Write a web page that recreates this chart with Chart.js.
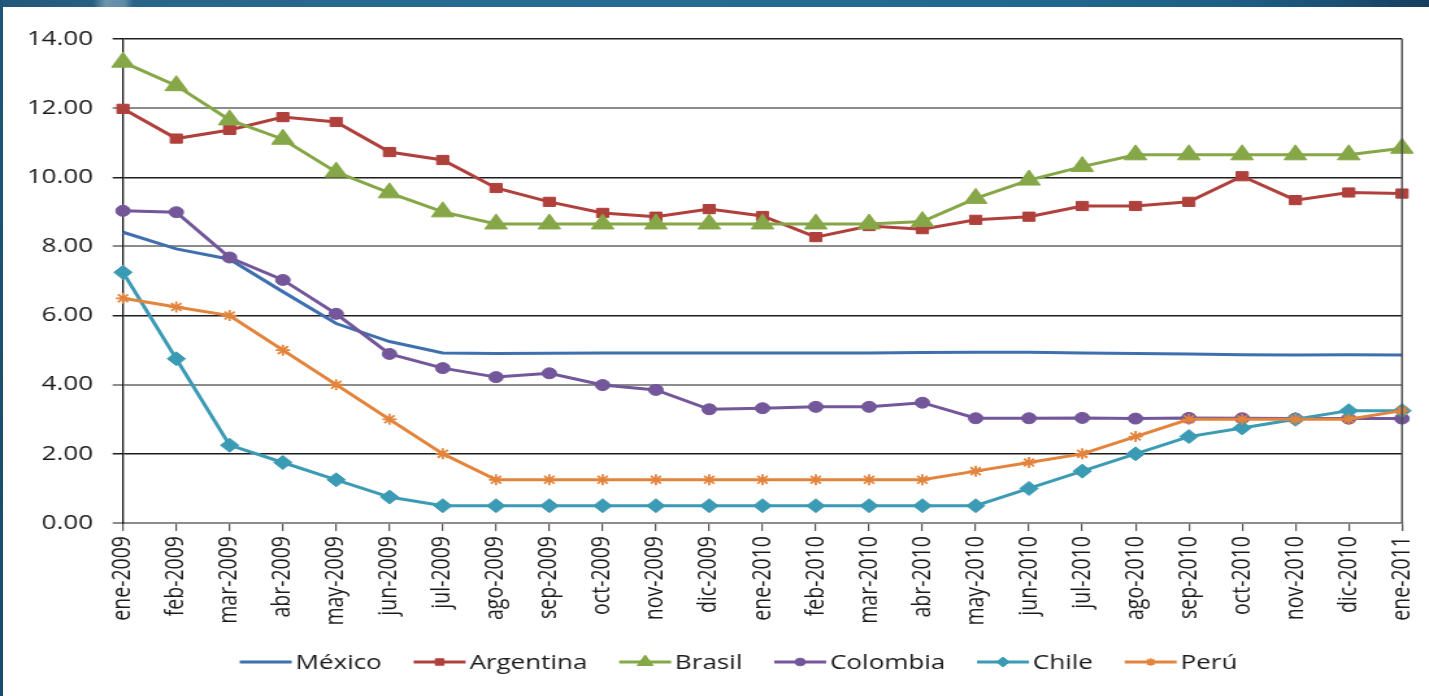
<!DOCTYPE html>
<html>
<head>
<meta charset="utf-8">
<script src="https://cdn.jsdelivr.net/npm/chart.js@4.4.1/dist/chart.umd.min.js"></script>
<style>
  html, body { margin: 0; padding: 0; background: #fff; overflow: hidden; }
  #wrap { position: relative; width: 1429px; height: 696px; background: #fff; }
  #c { position: absolute; left: 0; top: 0; }
  .band-top {
    position: absolute; left: 0; top: 0; width: 1429px; height: 7px;
    background: linear-gradient(90deg, #22587a 0%, #275f82 6.5%, #6d95ae 7.4%, #5e8ba7 8.7%, #2a6589 9.3%,
                #246c93 40%, #22698f 70%, #1e5f85 86%, #1b4e73 94%, #163d5e 100%);
  }
  .band-left {
    position: absolute; left: 0; top: 0; width: 3px; height: 696px;
    background: linear-gradient(180deg, #1f5677 0%, #1d4f70 50%, #1a4a69 100%);
  }
</style>
</head>
<body>
<div id="wrap">
  <!-- the drawing surface is rendered narrower and shown wider, giving the wide slide look -->
  <canvas id="c" width="1100" height="696" style="width:1429px;height:696px;"></canvas>
  <div class="band-top"></div>
  <div class="band-left"></div>
</div>
<script>
// Monthly categories, Jan 2009 to Jan 2011
const months = [
  'ene-2009', 'feb-2009', 'mar-2009', 'abr-2009', 'may-2009', 'jun-2009',
  'jul-2009', 'ago-2009', 'sep-2009', 'oct-2009', 'nov-2009', 'dic-2009',
  'ene-2010', 'feb-2010', 'mar-2010', 'abr-2010', 'may-2010', 'jun-2010',
  'jul-2010', 'ago-2010', 'sep-2010', 'oct-2010', 'nov-2010', 'dic-2010',
  'ene-2011'
];

const yTicks = [0, 2, 4, 6, 8, 10, 12, 14];

const mexico = [8.41, 7.93, 7.63, 6.69, 5.77, 5.25, 4.92, 4.90, 4.91, 4.92, 4.92, 4.92,
                4.92, 4.92, 4.92, 4.93, 4.94, 4.94, 4.92, 4.90, 4.89, 4.87, 4.86, 4.87, 4.86];

const argentina = [11.98, 11.12, 11.37, 11.74, 11.60, 10.73, 10.50, 9.69, 9.29, 8.97, 8.86, 9.08,
                   8.88, 8.27, 8.59, 8.50, 8.77, 8.86, 9.17, 9.17, 9.29, 10.03, 9.34, 9.56, 9.53];

const brasil = [13.33, 12.65, 11.66, 11.10, 10.15, 9.55, 9.00, 8.65, 8.65, 8.65, 8.65, 8.65,
                8.65, 8.65, 8.65, 8.72, 9.39, 9.92, 10.31, 10.65, 10.65, 10.65, 10.65, 10.65, 10.84];

const colombia = [9.03, 8.99, 7.68, 7.03, 6.05, 4.89, 4.48, 4.22, 4.33, 3.99, 3.85, 3.29,
                  3.32, 3.36, 3.36, 3.48, 3.03, 3.03, 3.04, 3.02, 3.04, 3.03, 3.02, 3.02, 3.02];

const chile = [7.25, 4.75, 2.25, 1.75, 1.25, 0.75, 0.50, 0.50, 0.50, 0.50, 0.50, 0.50,
               0.50, 0.50, 0.50, 0.50, 0.50, 1.00, 1.50, 2.00, 2.50, 2.75, 3.00, 3.25, 3.25];

const peru = [6.50, 6.25, 6.00, 5.00, 4.00, 3.00, 2.00, 1.25, 1.25, 1.25, 1.25, 1.25,
              1.25, 1.25, 1.25, 1.25, 1.50, 1.75, 2.00, 2.50, 3.00, 3.00, 3.00, 3.00, 3.25];

// horizontal stretch between canvas pixels and displayed pixels
const STRETCH = 1429 / 1100;
const FONT = "'Open Sans', 'DejaVu Sans', sans-serif";
const TEXT = '#1a1a1a';

function series(label, data, color, style, radius, extra) {
  return Object.assign({
    label, data,
    borderColor: color,
    backgroundColor: color,
    borderWidth: 3,
    pointStyle: style,
    pointRadius: radius,
    pointHoverRadius: radius,
    pointBackgroundColor: color,
    pointBorderColor: color,
    pointBorderWidth: 1,
    tension: 0,
    fill: false
  }, extra || {});
}

const datasets = [
  series('México', mexico, '#3f6fae', 'circle', 0, { order: 5 }),
  series('Argentina', argentina, '#b0403c', 'rect', 6.5, { order: 4 }),
  series('Brasil', brasil, '#86a747', 'triangle', 10, { order: 3 }),
  series('Colombia', colombia, '#73579a', 'circle', 5.5, { order: 2 }),
  series('Chile', chile, '#3b9ab4', 'rectRot', 7, { order: 1 }),
  series('Perú', peru, '#e3843c', 'star', 5.5, { order: 0, pointBorderWidth: 1.8 })
];

// Legend drawn as a line with the series marker in its middle
const lineLegend = {
  id: 'lineLegend',
  afterDraw(chart) {
    const ctx = chart.ctx;
    const items = chart.data.datasets;
    const lineLen = 40, gapText = 3, gapItem = 24.5, centerX = 568.5, y = 662;
    ctx.save();
    ctx.font = '20px ' + FONT;
    const widths = items.map(d => ctx.measureText(d.label).width);
    const total = widths.reduce((a, w) => a + lineLen + gapText + w, 0) + gapItem * (items.length - 1);
    let x = centerX - total / 2;
    items.forEach((d, k) => {
      ctx.strokeStyle = d.borderColor;
      ctx.lineWidth = 3;
      ctx.beginPath();
      ctx.moveTo(x, y);
      ctx.lineTo(x + lineLen, y);
      ctx.stroke();
      if (d.pointRadius > 0 && Chart.helpers && Chart.helpers.drawPoint) {
        ctx.fillStyle = d.pointBackgroundColor;
        ctx.strokeStyle = d.pointBorderColor;
        ctx.lineWidth = d.pointBorderWidth;
        Chart.helpers.drawPoint(ctx, {
          pointStyle: d.pointStyle,
          radius: d.pointRadius * 0.7,
          rotation: 0,
          borderWidth: d.pointBorderWidth
        }, x + lineLen / 2, y);
      }
      ctx.fillStyle = TEXT;
      ctx.textAlign = 'left';
      ctx.textBaseline = 'middle';
      ctx.fillText(d.label, x + lineLen + gapText, y + 1);
      x += lineLen + gapText + widths[k] + gapItem;
    });
    ctx.restore();
  }
};

// Closing vertical edge on the right of the plot area
const rightEdge = {
  id: 'rightEdge',
  afterDatasetsDraw(chart) {
    const { ctx, chartArea } = chart;
    ctx.save();
    ctx.strokeStyle = '#4a4a4a';
    ctx.lineWidth = 1.4;
    ctx.beginPath();
    ctx.moveTo(chartArea.right, chartArea.top);
    ctx.lineTo(chartArea.right, chartArea.bottom);
    ctx.stroke();
    ctx.restore();
  }
};

Chart.defaults.font.family = FONT;
Chart.defaults.color = TEXT;

new Chart(document.getElementById('c'), {
  type: 'line',
  data: { labels: months, datasets },
  options: {
    responsive: false,
    animation: false,
    devicePixelRatio: 1,
    layout: { padding: { top: 39, right: 1100 - 1402 / STRETCH, left: 0, bottom: 0 } },
    plugins: {
      legend: { display: false },
      tooltip: { enabled: false }
    },
    scales: {
      x: {
        type: 'category',
        offset: false,
        afterFit(scale) {
          scale.height = 173;
          scale.paddingLeft = 0;
          scale.paddingRight = 0;
        },
        grid: {
          drawOnChartArea: false,
          drawTicks: true,
          tickLength: 8,
          color: '#555',
          lineWidth: 1.2
        },
        border: { color: '#8c8c8c', width: 2 },
        ticks: {
          autoSkip: false,
          minRotation: 90,
          maxRotation: 90,
          padding: 5,
          font: { size: 19.5 },
          color: TEXT
        }
      },
      y: {
        min: 0,
        max: 14,
        afterFit(scale) { scale.width = 123 / STRETCH; },
        afterBuildTicks(scale) { scale.ticks = yTicks.map(v => ({ value: v })); },
        grid: {
          drawTicks: true,
          tickLength: 8,
          color: ctx => (ctx.tick && ctx.tick.value % 4 === 2) ? '#1e1e1e' : '#8c8c8c',
          lineWidth: ctx => (ctx.tick && ctx.tick.value % 4 === 2) ? 1.5 : 2
        },
        border: { color: '#111', width: 1.3 },
        ticks: {
          padding: 15,
          font: { size: 20 },
          color: TEXT,
          callback: v => Number(v).toFixed(2)
        }
      }
    }
  },
  plugins: [lineLegend, rightEdge]
});
</script>
</body>
</html>
